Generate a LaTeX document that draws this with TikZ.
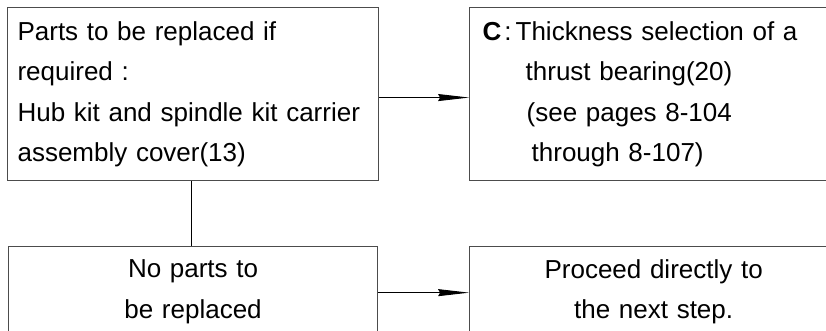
\documentclass[tikz,border=0pt]{standalone}
\usepackage{fontspec}
\setmainfont{Liberation Sans}
\usetikzlibrary{arrows.meta, positioning}

\begin{document}
\begin{tikzpicture}[x=1pt, y=-1pt,
  box/.style={draw=black!70, line width=1.1pt, rectangle, anchor=north west, inner ysep=0pt, font=\fontsize{26}{40.5}\selectfont},
  link/.style={line width=0.9pt},
  arr/.style={link, -{Stealth[length=31pt, width=7pt, inset=2pt]}}]
  \useasboundingbox (0,0) rectangle (826,330);
  \clip (0,0) rectangle (826,330);
  \node[box, inner xsep=10pt, text width=351pt, minimum height=173pt, align=left] (replace) at (7,7)
    {Parts to be replaced if\\required :\\Hub kit and spindle kit carrier\\assembly cover(13)};
  \node[box, right=90pt of replace, inner xsep=13pt, text width=341pt, minimum height=173pt, align=left] (thrust)
    {\textbf{C}\kern3pt:\kern4pt Thickness selection of a\\\hspace*{43pt}thrust bearing(20)\\\hspace*{44pt}(see pages 8-104\\\hspace*{49pt}through 8-107)};
  \node[box, below=65pt of replace, inner xsep=10pt, text width=349pt, minimum height=90pt, align=center] (noparts)
    {No parts to\\be replaced};
  \node[box, right=91pt of noparts, inner xsep=10pt, text width=348pt, minimum height=90pt, align=center] (proceed)
    {Proceed directly to\\the next step.};
  \draw[arr] ([yshift=-3.5pt]replace.east) -- ([yshift=-3.5pt]thrust.west);
  \draw[link] ([xshift=-2pt]replace.south) -- ([xshift=-2pt]noparts.north);
  \draw[arr] ([yshift=-1pt]noparts.east) -- ([yshift=-1pt]proceed.west);
\end{tikzpicture}
\end{document}
